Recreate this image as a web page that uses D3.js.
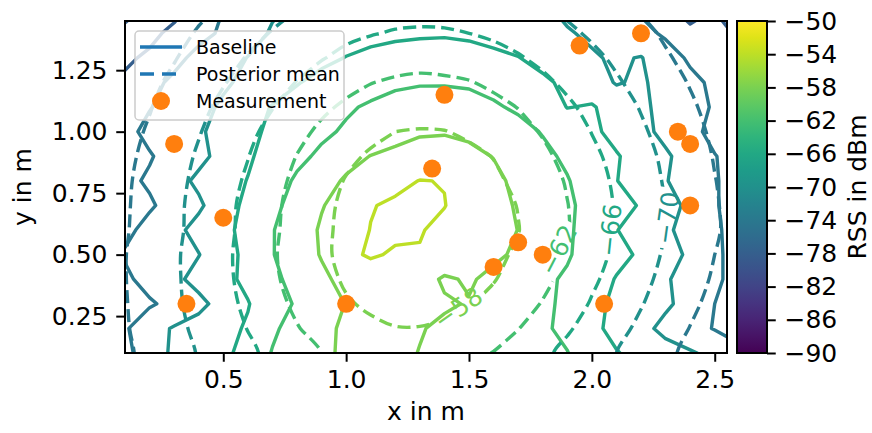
<!DOCTYPE html>
<html><head><meta charset="utf-8">
<script src="https://cdn.jsdelivr.net/npm/d3@7"></script>
<style>body{margin:0;background:#fff} text{font-family:"DejaVu Sans",sans-serif}</style>
</head><body><svg id="c" width="872" height="433"></svg>
<script>
// ---------------- data ----------------
const gridX = [0.1,0.2,0.3,0.4,0.5,0.6,0.7,0.8,0.9,1.0,1.1,1.2,1.3,1.4,1.5,1.6,1.7,1.8,1.9,2.0,2.1,2.2,2.3,2.4,2.5,2.6];
const gridY = [1.5,1.4,1.3,1.2,1.1,1.0,0.9,0.8,0.7,0.6,0.5,0.4,0.3,0.2,0.1];
const levels = [-82,-78,-74,-70,-66,-62,-58,-54];

// Baseline RSS (dBm), rows from y=1.5 (top) to y=0.1
const baseline = [
[-83,-82.5,-80,-76,-74,-72,-70.5,-69.5,-69,-68.5,-68,-67.8,-67.6,-67.5,-67.8,-68.2,-69,-69.5,-70.8,-71.5,-73,-74.5,-77,-80,-78,-79],
[-81,-79.5,-76.5,-75,-73.5,-71.5,-69.6,-68.8,-68,-67.4,-67,-66.6,-66.4,-66.3,-66.5,-66.9,-67.5,-68.5,-69.7,-70.6,-71.5,-73,-74.5,-76.8,-76,-77],
[-79,-77,-75,-73,-71.5,-69.9,-68.8,-67.8,-66.8,-65.9,-65.2,-64.8,-64.6,-64.6,-64.9,-65.4,-65.9,-67,-68.2,-69.6,-70.5,-69.8,-72.5,-74.5,-75.5,-76],
[-77,-75,-73.3,-71.8,-70.5,-69.2,-67.8,-66.2,-65.0,-64.0,-63.2,-62.6,-62.3,-62.3,-62.5,-63,-63.9,-65.4,-66.7,-68,-70.3,-69.4,-71.6,-73.2,-74.6,-75.5],
[-76.5,-74.2,-72.4,-71,-69.5,-67.5,-65.8,-64.6,-63.5,-62.4,-61.6,-60.8,-60.3,-60.2,-60.6,-61.6,-62.5,-64,-66.1,-65.7,-67.4,-69.4,-70.9,-72.6,-74.4,-75.5],
[-75.1,-73.0,-71.8,-70.5,-68.7,-67,-65.2,-63.8,-62.6,-61.6,-60.4,-59.2,-58.3,-58.2,-58.6,-59.6,-60.9,-62.2,-63.8,-65.2,-67.2,-69.0,-70.9,-73.2,-74.8,-76],
[-75.5,-74.3,-72.5,-70.9,-68.9,-66.4,-64.8,-62.8,-61.4,-59.4,-57.9,-57.2,-56.9,-56.8,-57.2,-58.1,-59.5,-61.2,-62.6,-64.4,-65.7,-67.6,-69.5,-71.5,-73.9,-75],
[-74.9,-73.5,-71.3,-69.3,-67.2,-65.9,-63.6,-61.5,-59.6,-57.5,-56.2,-55,-53.9,-54.1,-55.8,-57.2,-58.8,-60.3,-61.8,-63.6,-65.9,-67.8,-69.8,-71.7,-73.8,-75],
[-76.5,-74.5,-72.5,-70.6,-67.8,-65,-62.9,-60.6,-58.2,-56.6,-54.2,-53.4,-53.3,-53.9,-55.6,-57,-58.3,-59.8,-61.4,-63.2,-64.7,-66.3,-68.3,-71.0,-73.8,-75],
[-75,-72.7,-71.0,-68.8,-66.9,-64.9,-62.2,-59.8,-57.6,-55.8,-53.9,-53.5,-53.8,-54.8,-55.7,-56.8,-58.05,-59.7,-61.5,-63.4,-65.9,-67.4,-69.3,-71.5,-73.6,-75],
[-73.6,-73.3,-71.7,-70.1,-67.8,-64.8,-62.2,-59.6,-57.8,-54.6,-53.7,-54.3,-54.2,-55.2,-56.3,-57.3,-58.6,-60.2,-61.7,-63.3,-65.0,-66.5,-68.4,-70.7,-73.5,-75],
[-74.8,-72.5,-70.8,-68.9,-67.1,-65.1,-62.8,-60.8,-58.6,-57.1,-55.5,-55.6,-56.4,-58.5,-57.6,-58.9,-60.1,-61.4,-62.4,-64.2,-66.2,-67.6,-69.5,-71.9,-73.5,-75],
[-76,-74.5,-72.8,-70.9,-68.7,-66.2,-63.6,-61.6,-59.5,-57.9,-57,-56.6,-56.9,-57.6,-58.2,-59.4,-60.5,-61.4,-62.6,-65.3,-66.5,-68.1,-69.4,-71.3,-74,-75.5],
[-74.5,-71.3,-69.7,-68.7,-67.1,-65.6,-62.6,-60.5,-58.6,-57.6,-57.2,-57.1,-57.8,-58.6,-58.9,-59.8,-60.8,-61.5,-62.8,-65.1,-67.1,-68.9,-71.0,-72.7,-74.2,-75.6],
[-75,-72,-69.3,-68.5,-66.9,-64.6,-61.8,-60.2,-58.6,-57.5,-57.3,-57.2,-58.1,-58.6,-58.8,-59.8,-60.9,-61.3,-61.9,-64,-65.8,-67.2,-68.6,-69.6,-71,-73]
];

// Posterior mean RSS (dBm), rows from y=1.5 (top) to y=0.1
const posterior = [
[-78.4,-77.2,-75.9,-74.7,-73.5,-72.3,-71.1,-70.1,-69.2,-68.5,-67.9,-67.5,-67.4,-67.4,-67.7,-68.2,-68.9,-69.7,-70.7,-71.8,-73.0,-74.3,-75.4,-76.7,-78.0,-79.1],
[-77.7,-76.3,-75.0,-73.7,-72.3,-71.0,-69.8,-68.6,-67.6,-66.8,-66.2,-65.7,-65.5,-65.6,-66.0,-66.6,-67.3,-68.2,-69.3,-70.5,-71.8,-73.1,-74.5,-75.8,-77.1,-78.4],
[-76.9,-75.5,-74.2,-72.7,-71.2,-69.8,-68.5,-67.2,-66.2,-65.1,-64.2,-63.6,-63.3,-63.5,-63.9,-64.7,-65.7,-66.8,-68.0,-69.2,-70.6,-72.1,-73.6,-75.0,-76.4,-77.8],
[-76.3,-74.8,-73.3,-71.7,-70.2,-68.7,-67.2,-65.9,-64.4,-63.1,-62.1,-61.5,-61.2,-61.4,-61.8,-62.7,-63.9,-65.3,-66.7,-68.1,-69.6,-71.1,-72.7,-74.2,-75.7,-77.1],
[-75.7,-74.2,-72.5,-70.9,-69.2,-67.7,-66.1,-64.4,-62.7,-61.4,-60.4,-59.8,-59.5,-59.6,-60.1,-61.0,-62.1,-63.7,-65.4,-67.0,-68.6,-70.2,-71.9,-73.5,-75.1,-76.6],
[-75.2,-73.6,-71.9,-70.2,-68.5,-66.8,-65.0,-63.0,-61.3,-60.0,-58.8,-58.0,-57.8,-57.9,-58.5,-59.5,-60.8,-62.3,-64.2,-66.1,-67.8,-69.5,-71.2,-72.9,-74.6,-76.1],
[-74.8,-73.1,-71.4,-69.6,-67.8,-66.1,-64.0,-61.9,-60.2,-58.7,-57.6,-57.0,-56.7,-56.8,-57.3,-58.1,-59.6,-61.2,-63.1,-65.2,-67.1,-68.9,-70.6,-72.4,-74.2,-75.7],
[-74.5,-72.8,-71.0,-69.2,-67.4,-65.5,-63.2,-61.2,-59.4,-57.8,-56.8,-56.0,-55.7,-55.8,-56.4,-57.4,-58.7,-60.4,-62.3,-64.5,-66.6,-68.4,-70.3,-72.1,-73.9,-75.5],
[-74.4,-72.6,-70.8,-68.9,-67.1,-65.0,-62.8,-60.7,-58.8,-57.4,-56.2,-55.5,-55.1,-55.3,-55.8,-56.9,-58.1,-60.0,-61.9,-64.1,-66.3,-68.2,-70.0,-71.8,-73.7,-75.3],
[-74.3,-72.5,-70.7,-68.9,-67.0,-64.9,-62.6,-60.6,-58.7,-57.2,-56.0,-55.3,-54.7,-55.1,-55.7,-56.8,-57.9,-59.8,-61.8,-64.0,-66.3,-68.1,-70.0,-71.8,-73.6,-75.3],
[-74.1,-72.3,-70.5,-68.6,-66.8,-64.7,-62.4,-60.4,-58.6,-57.2,-56.1,-55.5,-55.2,-55.5,-56.1,-57.2,-58.5,-60.3,-62.3,-64.6,-66.7,-68.5,-70.4,-72.2,-74.0,-75.6],
[-74.1,-72.3,-70.5,-68.7,-66.9,-64.8,-62.6,-60.7,-59.0,-57.6,-56.7,-56.0,-55.8,-56.1,-56.9,-57.8,-59.4,-61.1,-63.1,-65.4,-67.3,-69.1,-70.9,-72.7,-74.4,-76.0],
[-74.2,-72.4,-70.6,-68.9,-67.1,-65.3,-63.2,-61.3,-59.7,-58.3,-57.5,-57.0,-56.9,-57.2,-57.8,-59.0,-60.5,-62.2,-64.3,-66.3,-68.0,-69.8,-71.6,-73.3,-75.0,-76.5],
[-74.3,-72.7,-70.9,-69.3,-67.6,-65.9,-64.0,-62.2,-60.7,-59.5,-58.6,-58.1,-58.1,-58.5,-59.4,-60.5,-61.9,-63.7,-65.6,-67.3,-69.0,-70.7,-72.3,-74.1,-75.6,-77.1],
[-74.6,-73.0,-71.4,-69.8,-68.2,-66.7,-65.1,-63.4,-62.0,-61.0,-60.2,-59.9,-59.9,-60.3,-61.1,-62.1,-63.6,-65.3,-66.9,-68.4,-70.0,-71.6,-73.3,-74.8,-76.3,-77.8]
];

const measX = [0.30,0.35,0.50,1.00,1.40,1.35,1.60,1.70,1.80,1.95,2.20,2.35,2.40,2.40,2.05];
const measY = [0.95,0.30,0.65,0.30,1.15,0.85,0.45,0.55,0.50,1.35,1.40,1.00,0.95,0.70,0.30];

const xTicks = [0.5,1.0,1.5,2.0,2.5];
const yTicks = [0.25,0.5,0.75,1.0,1.25];
const cbTicks = [-50,-54,-58,-62,-66,-70,-74,-78,-82,-86,-90];
const labelLevels = [-58,-62,-66,-70];
const labelX = [1.455,1.862,2.074,2.306];
const labelY = [0.283,0.519,0.600,0.649];

// ---------------- drawing ----------------
const svg = d3.select('#c');
const X0=125, X1=727, Y0=21, Y1=353;
const x = d3.scaleLinear().domain([0.1,2.55]).range([X0,X1]);
const y = d3.scaleLinear().domain([0.1,1.45]).range([Y1,Y0]);
const color = v => d3.interpolateViridis((v+90)/40);
const FS = 25, LW = 3.4;

const defs = svg.append('defs');
defs.append('clipPath').attr('id','clip').append('rect')
  .attr('x',X0).attr('y',Y0).attr('width',X1-X0).attr('height',Y1-Y0);

function gridContours(rows){
  const m = rows.length, n = rows[0].length;
  const padded = [rows[0], ...rows, rows[m-1]];
  const vals = [];
  padded.forEach(r => { vals.push(r[0], ...r, r[n-1]); });
  return d3.contours().size([n+2, m+2]).thresholds(levels)(vals);
}
const step = gridX[1]-gridX[0];
const toX = gx => x(gridX[0] + (gx-1.5)*step);
const toY = gy => y(gridY[0] - (gy-1.5)*step);

const plot = svg.append('g').attr('clip-path','url(#clip)');

// baseline (solid)
const lineLin = d3.line().x(p=>toX(p[0])).y(p=>toY(p[1]));
const gBase = plot.append('g');
gridContours(baseline).forEach(c => {
  c.coordinates.forEach(poly => poly.forEach(ring => {
    gBase.append('path').attr('d', lineLin(ring) + 'Z')
      .attr('fill','none').attr('stroke', color(c.value))
      .attr('stroke-width',LW).attr('stroke-linejoin','round');
  }));
});

// posterior (dashed)
const mask = defs.append('mask').attr('id','lblmask').attr('maskUnits','userSpaceOnUse')
  .attr('x',0).attr('y',0).attr('width',872).attr('height',433);
mask.append('rect').attr('x',0).attr('y',0).attr('width',872).attr('height',433).attr('fill','white');
const lineSmooth = d3.line().curve(d3.curveCatmullRomClosed.alpha(0.5)).x(p=>toX(p[0])).y(p=>toY(p[1]));
const gPost = plot.append('g').attr('mask','url(#lblmask)');
gridContours(posterior).forEach(c => {
  c.coordinates.forEach(poly => poly.forEach(ring => {
    let r = ring.slice();
    const a = r[0], b = r[r.length-1];
    if (r.length>1 && a[0]===b[0] && a[1]===b[1]) r.pop();
    gPost.append('path').attr('d', lineSmooth(r))
      .attr('fill','none').attr('stroke', color(c.value))
      .attr('stroke-width',LW).attr('stroke-dasharray','13,6');
  }));
});

// contour labels
const labelAngles = [-35,-63,-84,-82];
const gLbl = plot.append('g');
labelLevels.forEach((lv,i) => {
  const px = x(labelX[i]), py = y(labelY[i]);
  const t = gLbl.append('text').attr('transform',`translate(${px},${py}) rotate(${labelAngles[i]})`)
    .attr('text-anchor','middle').attr('dy','0.36em')
    .attr('font-size',FS).attr('fill',color(lv)).text(d3.format('')(lv));
  const w = t.node().getComputedTextLength();
  mask.append('rect').attr('x',-w/2-4).attr('y',-13).attr('width',w+8).attr('height',26)
    .attr('transform',`translate(${px},${py}) rotate(${labelAngles[i]})`).attr('fill','black');
});

// measurements
plot.append('g').selectAll('circle').data(measX).join('circle')
  .attr('cx',(d,i)=>x(d)).attr('cy',(d,i)=>y(measY[i])).attr('r',9).attr('fill','#ff7f0e');

// axes
function styleAxis(g){
  g.select('.domain').remove();
  g.selectAll('.tick line').attr('stroke','#000').attr('stroke-width',2);
  g.selectAll('.tick text').attr('font-size',FS).attr('fill','#000').attr('font-family','DejaVu Sans');
}
svg.append('g').attr('transform',`translate(0,${Y1})`)
  .call(d3.axisBottom(x).tickValues(xTicks).tickFormat(d3.format('.1f')).tickSize(8.75).tickPadding(8.75))
  .call(styleAxis);
svg.append('g').attr('transform',`translate(${X0},0)`)
  .call(d3.axisLeft(y).tickValues(yTicks).tickFormat(d3.format('.2f')).tickSize(8.75).tickPadding(8.75))
  .call(styleAxis);
svg.append('rect').attr('x',X0).attr('y',Y0).attr('width',X1-X0).attr('height',Y1-Y0)
  .attr('fill','none').attr('stroke','#000').attr('stroke-width',2);

svg.append('text').attr('x',(X0+X1)/2).attr('y',420).attr('text-anchor','middle')
  .attr('font-size',FS).text('x in m');
svg.append('text').attr('transform',`translate(31,${(Y0+Y1)/2}) rotate(-90)`).attr('text-anchor','middle')
  .attr('font-size',FS).text('y in m');

// colorbar
const CB0=737, CB1=767;
const grad = defs.append('linearGradient').attr('id','vir').attr('x1',0).attr('y1',1).attr('x2',0).attr('y2',0);
d3.range(0,1.0001,0.05).forEach(t => grad.append('stop').attr('offset',t).attr('stop-color',d3.interpolateViridis(t)));
svg.append('rect').attr('x',CB0).attr('y',Y0).attr('width',CB1-CB0).attr('height',Y1-Y0).attr('fill','url(#vir)');
const cb = d3.scaleLinear().domain([-90,-50]).range([Y1,Y0]);
svg.append('g').attr('transform',`translate(${CB1},0)`)
  .call(d3.axisRight(cb).tickValues(cbTicks).tickFormat(d3.format('')).tickSize(8.75).tickPadding(8.75))
  .call(styleAxis);
svg.append('rect').attr('x',CB0).attr('y',Y0).attr('width',CB1-CB0).attr('height',Y1-Y0)
  .attr('fill','none').attr('stroke','#000').attr('stroke-width',2);
svg.append('text').attr('transform',`translate(866,${(Y0+Y1)/2}) rotate(-90)`).attr('text-anchor','middle')
  .attr('font-size',FS).text('RSS in dBm');

// legend
const lg = svg.append('g');
lg.append('rect').attr('x',135).attr('y',31).attr('width',209).attr('height',89).attr('rx',4)
  .attr('fill','white').attr('fill-opacity',0.8).attr('stroke','#cccccc').attr('stroke-width',1.5);
lg.append('line').attr('x1',140).attr('x2',182).attr('y1',47).attr('y2',47).attr('stroke','#1f77b4').attr('stroke-width',LW);
lg.append('line').attr('x1',140).attr('x2',182).attr('y1',74).attr('y2',74).attr('stroke','#1f77b4').attr('stroke-width',LW).attr('stroke-dasharray','14,8');
lg.append('circle').attr('cx',161).attr('cy',101).attr('r',9).attr('fill','#ff7f0e');
const legendLabels = ['Baseline','Posterior mean','Measurement'];
legendLabels.forEach((t,i) => lg.append('text').attr('x',196).attr('y',47+27*i).attr('dy','0.36em')
  .attr('font-size',19).text(t));
</script></body></html>
